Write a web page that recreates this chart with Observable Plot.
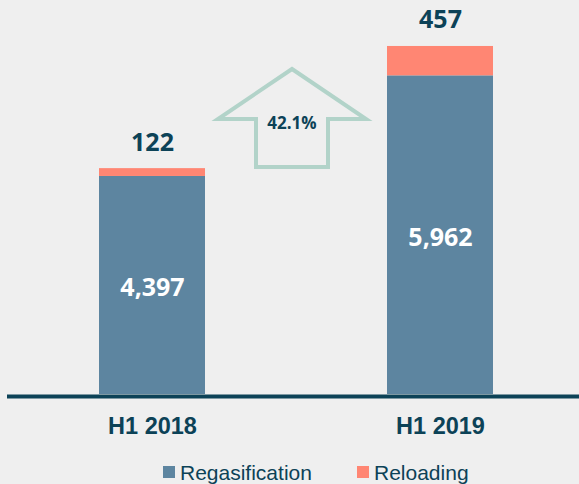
<!DOCTYPE html>
<html>
<head>
<meta charset="utf-8">
<script src="https://cdn.jsdelivr.net/npm/d3@7"></script>
<script src="https://cdn.jsdelivr.net/npm/@observablehq/plot@0.6"></script>
<style>
  html, body { margin: 0; padding: 0; background: #efefef; }
  #wrap { width: 579px; height: 484px; overflow: hidden; position: relative; }
  #legend { position: relative; width: 579px; height: 34px; font-family: "Liberation Sans", Arial, sans-serif; font-size: 21px; color: #0c4257; }
  .item { position: absolute; top: 12px; height: 22px; line-height: 21px; white-space: nowrap; }
  .sw { position: absolute; left: 0; top: 4px; width: 12px; height: 12px; }
  .lbl { position: absolute; left: 17px; top: 0; }
</style>
</head>
<body>
<div id="wrap">
  <div id="chart"></div>
  <div id="legend"></div>
</div>
<script>
// ---- data ----
const periods = ["H1 2018", "H1 2019"];
const types = ["Regasification", "Reloading"];
const regasification = [4397, 5962];
const reloading = [122, 457];
const growthLabel = "42.1%";
const colors = ["#5d85a0", "#ff8673"];

const dark = "#0c4257";
const yMin = 1006;

const rows = [];
periods.forEach((p, i) => rows.push({period: p, type: types[0], value: regasification[i]}));
periods.forEach((p, i) => rows.push({period: p, type: types[1], value: reloading[i]}));

const fmt = d3.format(",");

// arrow annotation between the two bars
function arrowMark(index, scales, values, dims) {
  const sx = scales.x;
  const bw = (scales.scales && scales.scales.x && scales.scales.x.bandwidth) || 106;
  const cx = (sx(periods[0]) + sx(periods[1]) + bw) / 2 - 4;
  const tip = 69, wing = 119, bottom = 167, hw = 74, sw = 36;
  const pts = [
    [cx, tip], [cx + hw, wing], [cx + sw, wing], [cx + sw, bottom],
    [cx - sw, bottom], [cx - sw, wing], [cx - hw, wing]
  ];
  const g = d3.create("svg:g");
  g.append("path")
    .attr("d", "M" + pts.map(p => p.join(",")).join("L") + "Z")
    .attr("fill", "none")
    .attr("stroke", "#b2d3c9")
    .attr("stroke-width", 4)
    .attr("stroke-linejoin", "miter");
  g.append("text")
    .attr("x", cx)
    .attr("y", 123)
    .attr("dy", "0.35em")
    .attr("text-anchor", "middle")
    .attr("font-family", "'Open Sans', sans-serif")
    .attr("font-weight", "bold")
    .attr("font-size", 17)
    .attr("fill", dark)
    .text(growthLabel);
  return g.node();
}

const chart = Plot.plot({
  width: 579,
  height: 450,
  marginTop: 0,
  marginBottom: 56,
  marginLeft: 7,
  marginRight: 0,
  style: {background: "transparent", overflow: "visible"},
  x: {domain: periods, paddingInner: 0.632, paddingOuter: 0.309, align: 0.517, axis: null},
  y: {domain: [yMin, 7134], axis: null},
  color: {domain: types, range: colors},
  marks: [
    Plot.barY(rows, {x: "period", y: "value", fill: "type", clip: "frame"}),
    Plot.ruleY([yMin], {stroke: dark, strokeWidth: 4, dy: 2}),
    Plot.text(periods, {
      x: d => d,
      y: (d, i) => (yMin + regasification[i]) / 2,
      text: (d, i) => fmt(regasification[i]),
      fill: "white", fontSize: 25, fontWeight: "bold",
      fontFamily: "'Open Sans', sans-serif", dy: 3
    }),
    Plot.text(periods, {
      x: d => d,
      y: (d, i) => regasification[i] + reloading[i],
      text: (d, i) => fmt(reloading[i]),
      fill: dark, fontSize: 25, fontWeight: "bold",
      fontFamily: "'Open Sans', sans-serif", dy: -26
    }),
    Plot.text(periods, {
      x: d => d,
      frameAnchor: "bottom",
      text: d => d,
      lineAnchor: "top",
      dy: 23,
      fill: dark, fontSize: 23.5, fontWeight: "bold",
      fontFamily: "'Liberation Sans', Arial, sans-serif"
    }),
    arrowMark
  ]
});
document.getElementById("chart").appendChild(chart);

// legend
const legend = document.getElementById("legend");
const lefts = [163, 357];
types.forEach((t, i) => {
  const it = document.createElement("div");
  it.className = "item";
  it.style.left = lefts[i] + "px";
  const sw = document.createElement("span");
  sw.className = "sw";
  sw.style.background = colors[i];
  const lb = document.createElement("span");
  lb.className = "lbl";
  lb.textContent = t;
  it.appendChild(sw);
  it.appendChild(lb);
  legend.appendChild(it);
});
</script>
</body>
</html>
